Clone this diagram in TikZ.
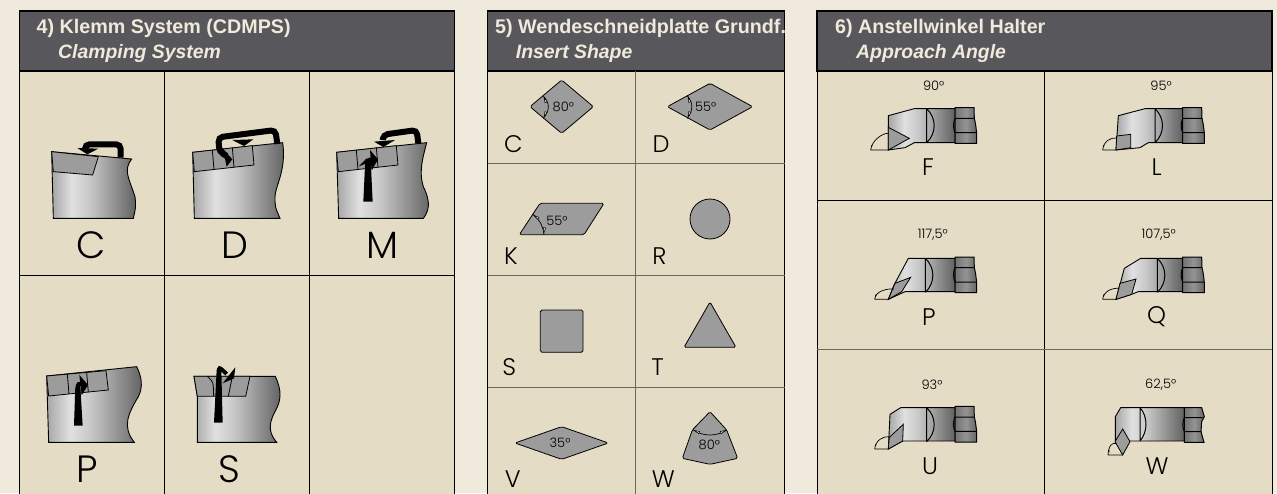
\documentclass[tikz,border=0pt]{standalone}
\usepackage{fontspec}
\setmainfont{Liberation Sans}
\newfontfamily\letterfont{Poppins Light}
\usetikzlibrary{positioning, calc}

\definecolor{pagebg}{HTML}{F0EADD}
\definecolor{cellbg}{HTML}{E4DCC5}
\definecolor{headbg}{HTML}{58585C}
\definecolor{insertgray}{HTML}{9C9C9C}
\definecolor{gridgray}{HTML}{6A675C}

\pgfdeclarehorizontalshading{metalshade}{100bp}{
  color(0bp)=(black!35); color(25bp)=(black!35); color(37bp)=(black!12);
  color(48bp)=(black!22); color(75bp)=(black!62); color(100bp)=(black!62)}
\pgfdeclarehorizontalshading{clampshade}{100bp}{
  color(0bp)=(black!55); color(25bp)=(black!55); color(50bp)=(black!42);
  color(75bp)=(black!60); color(100bp)=(black!60)}

\begin{document}
\begin{tikzpicture}[
  x=1pt, y=-1pt,
  cell/.style     = {fill=cellbg, draw=black, line width=1pt},
  grid/.style     = {draw=black, line width=.8pt},
  softgrid/.style = {draw=gridgray, line width=1pt},
  header/.style   = {fill=headbg, draw=black, line width=1.2pt},
  headtext/.style = {anchor=base west, inner sep=0pt, text=pagebg,
                     font=\fontsize{19.7}{21}\selectfont\bfseries},
  subtext/.style  = {headtext, font=\fontsize{19.4}{21}\selectfont\bfseries\itshape},
  bigletter/.style   = {inner sep=0pt, font=\letterfont\fontsize{38}{38}\selectfont},
  midletter/.style   = {inner sep=0pt, font=\letterfont\fontsize{24}{24}\selectfont},
  anglenote/.style   = {inner sep=0pt, font=\letterfont\fontsize{13}{13}\selectfont},
  metal/.style    = {draw=black, line width=.9pt, shade, shading=metalshade},
  insert/.style   = {draw=black, line width=.8pt, fill=insertgray},
  plate/.style    = {draw=black, line width=.8pt, fill=insertgray, rounded corners=1.6pt},
  cutline/.style  = {draw=black, line width=.8pt},
  anglearc/.style = {draw=black, line width=.7pt},
  force/.style    = {draw=black, line width=6pt, line cap=butt, rounded corners=4.5pt},
  thinforce/.style = {draw=black, line width=4pt, line cap=butt, rounded corners=2pt},
  zoomed/.style   = {x=.33333pt, y=-.33333pt},
  clamp/.pic = {
    \path[draw=black, line width=1pt, shade, shading=clampshade]
      (0,0) -- (57,0) -- (58,32) .. controls (62,50) .. (65,77) -- (65,107) -- (0,107) -- cycle;
    \draw[cutline, line width=1pt] (0,32) -- (58,32) (0,75) -- (65,75)
      (0,32) .. controls (-6,45) and (-6,62) .. (0,75);
  },
  joint/.pic = {
    \draw[cutline, line width=1pt] (0,0) -- (0,102) (0,0) .. controls (30,28) and (30,74) .. (0,102);
  },
]
\newcommand{\approachmark}[3]{%
  \draw[anglearc] #1 -- #2 #1 .. controls +(2,-26) and +(-18,-2) .. #3;
  \fill[black] #1 ++(1,-14) -- ++(4,0) -- ++(-1.5,7) -- cycle;
}
\newcommand{\angletip}[2]{%
  \filldraw[anglearc, line width=.5pt, fill=cellbg, shift={#1}, rotate=#2] (0,0) -- (16,3.5) -- (16,-3.5) -- cycle;
}
\useasboundingbox (0,0) rectangle (1277,493);
\fill[pagebg] (0,0) rectangle (1277,493);

% panel 4
\path[cell] (19.5,71) rectangle (454.5,495);
\path[header] (19.5,11) rectangle (454.5,71);
\draw[grid] (164.5,71) -- (164.5,495) (309.5,71) -- (309.5,495) (19.5,275) -- (454.5,275);
\node[headtext] (klemmtitle) at (36.5,33.7) {4) Klemm System (CDMPS)};
\node[subtext]  (klemmsub)   at (58,58.3)   {Clamping System};

\begin{scope}[zoomed]
  % C
  \path[metal] (155,455) -- (395,477) .. controls (370,510) and (385,530) .. (405,590) .. controls (408,620) .. (400,655) -- (160,655) -- cycle;
  \path[insert] (155,455) -- (295,470) -- (278,525) -- (160,515) -- cycle;
  \draw[force] (362,473) -- (362,433) -- (255,433) -- (255,447);
  \fill (232,444) -- (295,446) -- (262,463) -- cycle;
  % D
  \path[metal] (578,457) -- (848,428) .. controls (860,510) and (825,560) .. (825,590) .. controls (825,620) .. (840,655) -- (583,655) -- cycle;
  \path[insert] (578,457) -- (757,437) -- (762,495) -- (583,515) -- cycle;
  \draw[cutline] (637,450) -- (642,508) (697,443) -- (702,502);
  \draw[force] (832,432) -- (826,390) -- (655,412) -- (658,455) -- (680,468);
  \fill (668,445) -- (697,478) -- (680,500) -- cycle;
  \fill (697,420) -- (760,418) -- (732,438) -- cycle;
  % M
  \path[metal] (1010,457) -- (1280,428) .. controls (1270,470) and (1255,510) .. (1270,560) .. controls (1295,610) and (1285,635) .. (1270,655) -- (1016,655) -- cycle;
  \path[insert] (1010,457) -- (1189,437) -- (1194,495) -- (1015,515) -- cycle;
  \draw[cutline] (1069,450) -- (1074,508) (1129,443) -- (1134,502);
  \draw[force] (1255,430) -- (1250,390) -- (1150,404) -- (1148,420);
  \fill (1122,425) -- (1185,420) -- (1150,441) -- cycle;
  \fill (1090,605) -- (1118,605) -- (1112,478) -- (1096,478) -- cycle;
  \draw[thinforce] (1104,480) -- (1106,478) -- (1125,478);
  \fill (1110,450) -- (1134,478) -- (1115,512) -- cycle;
\end{scope}

\begin{scope}[shift={(0,270)}, zoomed]
  % P
  \path[metal] (140,318) -- (410,290) .. controls (425,320) and (430,350) .. (415,380) .. controls (385,430) and (365,470) .. (403,517) -- (146,517) -- cycle;
  \path[insert] (140,318) -- (318,302) -- (325,360) -- (146,378) -- cycle;
  \draw[cutline] (202,312) -- (207,372) (260,307) -- (265,367);
  \fill (222,467) -- (248,467) -- (241,350) -- (226,350) -- cycle;
  \draw[thinforce] (233,352) -- (235,340) -- (252,345);
  \fill (238,315) -- (264,345) -- (245,376) -- cycle;
  % S
  \path[metal] (582,319) -- (826,319) .. controls (845,360) and (845,390) .. (825,425) .. controls (800,470) and (812,495) .. (830,517) -- (592,517) -- (592,379) -- cycle;
  \path[insert] (582,319) -- (750,319) -- (737,379) -- (592,379) -- cycle;
  \draw[cutline] (622,319) .. controls (640,335) .. (641,379) (697,319) -- (685,379);
  \fill (642,458) -- (668,458) -- (664,300) -- (650,300) -- cycle;
  \draw[thinforce] (656,302) -- (658,292) -- (680,312);
  \fill (706,292) -- (702,325) -- (668,340) -- cycle;
\end{scope}

\node[bigletter] (letterC) at (90.7,245)  {C};
\node[bigletter] (letterD) at (235,245)   {D};
\node[bigletter] (letterM) at (382.7,245) {M};
\node[bigletter] (letterP) at (87,469)    {P};
\node[bigletter] (letterS) at (229,469)   {S};

% panel 5
\path[cell] (487.5,71) rectangle (784.5,495);
\path[header] (487.5,11) rectangle (784.5,71);
\draw[softgrid] (635.5,71) -- (635.5,495) (487.5,163) -- (784.5,163) (487.5,275) -- (784.5,275) (487.5,387) -- (784.5,387);
\node[headtext] (platetitle) at (495,33.7)   {5) Wendeschneidplatte Grundf.};
\node[subtext]  (platesub)   at (515.7,58.3) {Insert Shape};

\begin{scope}[shift={(480,0)}, zoomed]
  \path[plate] (245,240) -- (340,320) -- (245,400) -- (150,320) -- cycle;
  \draw[anglearc] (190,288) .. controls (210,310) and (210,330) .. (190,355);
  \angletip{(192,292)}{-68}
  \angletip{(192,351)}{68}
  \path[plate] (690,250) -- (818,320) -- (690,390) -- (562,320) -- cycle;
  \draw[anglearc] (622,287) .. controls (640,310) and (640,330) .. (622,355);
  \angletip{(624,291)}{-70}
  \angletip{(624,351)}{70}
  \path[plate] (180,610) -- (372,610) -- (312,704) -- (118,704) -- cycle;
  \draw[anglearc] (158,643) .. controls (180,660) and (190,680) .. (192,704);
  \angletip{(162,646)}{-35}
  \angletip{(191,699)}{80}
  \path[insert] (690,657) circle[radius=60];
\end{scope}
\node[anglenote] (shapeCdeg) at (563.3,106.5) {80°};
\node[anglenote] (shapeDdeg) at (705.7,106.5) {55°};
\node[anglenote] (shapeKdeg) at (557,220.5)   {55°};

\begin{scope}[shift={(480,270)}, zoomed]
  \path[plate] (181,120) rectangle (309,247);
  \path[plate] (690,96) -- (768,232) -- (612,232) -- cycle;
  \path[plate] (245,470) -- (385,519) -- (245,568) -- (105,519) -- cycle;
  \path[plate] (690,425) -- (740,480) -- (773,565) -- (690,583) -- (607,565) -- (637,480) -- cycle;
  \draw[anglearc] (640,480) .. controls (670,500) and (710,500) .. (740,480);
  \angletip{(643,481)}{-25}
  \angletip{(737,481)}{-155}
\end{scope}
\node[anglenote] (shapeVdeg) at (560,443)   {35°};
\node[anglenote] (shapeWdeg) at (709.3,445) {80°};

\node[midletter] (shapeC) at (513.3,144) {C};
\node[midletter] (shapeD) at (661,144)   {D};
\node[midletter] (shapeK) at (511,256)   {K};
\node[midletter] (shapeR) at (659.3,256) {R};
\node[midletter] (shapeS) at (509.3,367.3) {S};
\node[midletter] (shapeT) at (657.7,367.3) {T};
\node[midletter] (shapeV) at (512.7,479) {V};
\node[midletter] (shapeW) at (663.3,479) {W};

% panel 6
\path[cell] (817,71) rectangle (1272,495);
\path[header] (817,11) rectangle (1272,71);
\draw[grid] (1044.5,71) -- (1044.5,495) (817,200) -- (1272,200);
\draw[softgrid] (817,349.7) -- (1272,349.7);
\node[headtext] (angletitle) at (835,33.7) {6) Anstellwinkel Halter};
\node[subtext]  (anglesub)   at (856,58.3) {Approach Angle};

\begin{scope}[shift={(780,0)}, zoomed]
  % F
  \path[metal] (325,347) -- (403,326) -- (525,326) -- (525,428) -- (403,428) -- (375,443) -- (325,450) -- cycle;
  \pic at (440,326) {joint};
  \pic at (525,323) {clamp};
  \path[insert] (325,382) -- (388,415) -- (325,450) -- cycle;
  \approachmark{(272,450)}{(325,450)}{(325,400)}
  % L
  \path[metal] (1015,347) -- (1095,326) -- (1208,326) -- (1208,428) -- (1105,428) -- (1080,443) -- (1008,450) -- cycle;
  \pic at (1125,326) {joint};
  \pic at (1208,323) {clamp};
  \path[insert] (1010,408) -- (1052,403) -- (1052,443) -- (1008,450) -- cycle;
  \approachmark{(968,450)}{(1008,450)}{(1010,414)}
\end{scope}

\begin{scope}[shift={(780,195)}, zoomed]
  % P
  \path[metal] (342,270) -- (385,190) -- (525,190) -- (525,290) -- (375,290) -- (325,313) -- cycle;
  \pic at (436,190) {joint};
  \pic at (525,186) {clamp};
  \path[insert] (345,265) -- (392,247) -- (365,290) -- (325,313) -- cycle;
  \approachmark{(284,313)}{(325,313)}{(342,282)}
  % Q
  \path[metal] (1033,220) -- (1082,190) -- (1208,190) -- (1208,290) -- (1075,290) -- (1055,298) -- (1008,313) -- cycle;
  \pic at (1132,190) {joint};
  \pic at (1208,186) {clamp};
  \path[insert] (1020,265) -- (1068,252) -- (1055,298) -- (1008,313) -- cycle;
  \approachmark{(968,313)}{(1008,313)}{(1018,280)}
  % U
  \path[metal] (330,658) -- (362,638) -- (525,638) -- (525,738) -- (368,738) -- (325,762) -- cycle;
  \pic at (440,638) {joint};
  \pic at (525,634) {clamp};
  \path[insert] (328,727) -- (370,688) -- (368,738) -- (325,762) -- cycle;
  \approachmark{(284,762)}{(325,762)}{(328,725)}
  % W
  \path[metal] (1006,665) -- (1022,638) -- (1213,638) -- (1213,738) -- (1045,738) -- (1006,738) -- cycle;
  \draw[cutline, line width=1pt] (1080,638) -- (1080,738) (1080,638) .. controls (1104,665) and (1104,710) .. (1080,738);
  \path[draw=black, line width=1pt, shade, shading=clampshade] (1213,638) -- (1265,638) -- (1273,665) -- (1265,680) -- (1263,710) -- (1272,742) -- (1213,742) -- cycle;
  \draw[cutline, line width=1pt] (1213,668) -- (1268,668) (1213,710) -- (1263,710) (1213,668) .. controls (1207,680) and (1207,698) .. (1213,710);
  \path[insert] (1028,702) -- (1050,740) -- (1028,780) -- (1005,740) -- cycle;
  \approachmark{(984,780)}{(1028,780)}{(1010,745)}
\end{scope}

\node[anglenote] (degF) at (933.7,86)  {90°};
\node[anglenote] (degL) at (1161,86)   {95°};
\node[anglenote] (degP) at (932.7,235) {117,5°};
\node[anglenote] (degQ) at (1158.7,235) {107,5°};
\node[anglenote] (degU) at (932,384.5) {93°};
\node[anglenote] (degW) at (1160.7,384.5) {62,5°};

\node[midletter] (toolF) at (928,167)  {F};
\node[midletter] (toolL) at (1156.7,167) {L};
\node[midletter] (toolP) at (929,317)  {P};
\node[midletter] (toolQ) at (1156.7,317) {Q};
\node[midletter] (toolU) at (930,466)  {U};
\node[midletter] (toolW) at (1157,466) {W};
\end{tikzpicture}
\end{document}
